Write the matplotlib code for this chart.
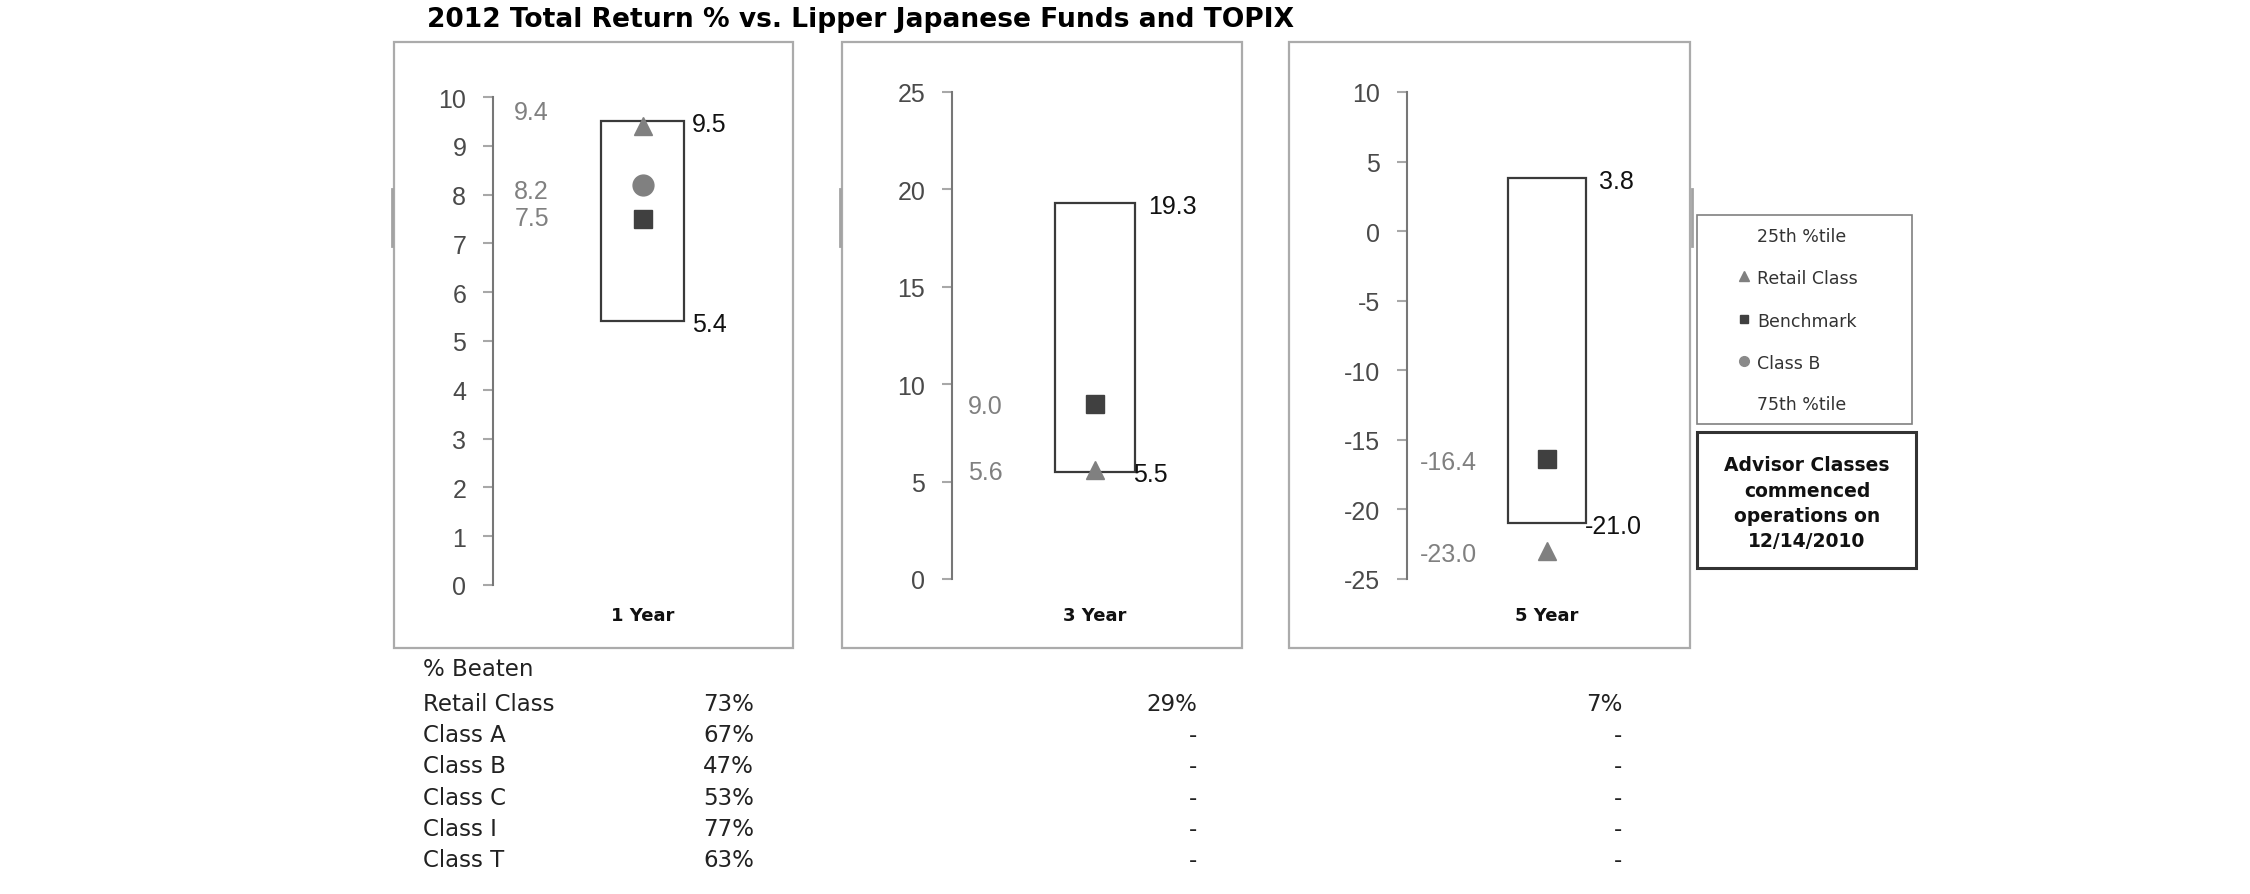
import numpy as np
import matplotlib
matplotlib.use("Agg")
import matplotlib.pyplot as plt
from matplotlib.patches import Rectangle
from matplotlib.lines import Line2D
import matplotlib.transforms as mtransforms

plt.rcParams['axes.unicode_minus'] = False
plt.rcParams['font.family'] = ['Liberation Sans', 'DejaVu Sans']

# ---------------- data ----------------
title = "2012 Total Return % vs. Lipper Japanese Funds and TOPIX"
periods = ["1 Year", "3 Year", "5 Year"]
pct25 = [9.5, 19.3, 3.8]        # top of box (25th percentile)
pct75 = [5.4, 5.5, -21.0]       # bottom of box (75th percentile)
retail = [9.4, 5.6, -23.0]
benchmark = [7.5, 9.0, -16.4]
class_b = [8.2, None, None]
y_limits = [(0, 10), (0, 25), (-25, 10)]
y_steps = [1, 5, 5]

legend_labels = ["25th %tile", "Retail Class", "Benchmark", "Class B", "75th %tile"]
note_lines = ["Advisor Classes", "commenced", "operations on", "12/14/2010"]

table_title = "% Beaten"
share_classes = ["Retail Class", "Class A", "Class B", "Class C", "Class I", "Class T"]
beaten_1y = ["73%", "67%", "47%", "53%", "77%", "63%"]
beaten_3y = ["29%", "-", "-", "-", "-", "-"]
beaten_5y = ["7%", "-", "-", "-", "-", "-"]

# ---------------- layout (pixels, origin top-left) ----------------
W, H = 2250, 895
PX = 72 / 100.0


def fx(x):
    return x / W


def fy(y):
    return 1 - y / H


fig = plt.figure(figsize=(W / 100, H / 100), dpi=100)
fig.patch.set_facecolor('white')

panel_boxes = [(394, 43, 793, 649), (842, 43, 1242, 649), (1289, 43, 1690, 649)]
spine_x = [493, 952, 1407]
axis_top = [98, 93, 93]
axis_bot = [586, 580, 580]
box_left = [601, 1055, 1508]
box_right = [684, 1135, 1586]
grey_label_right = [549, 1003, 1477]
top_label_dx = [8, 13, 13]
bot_label_dx = [8, -2, -1]
retail_dy = [-17, 0, 0]
bench_dy = [-3, 0, 0]
classb_dy = [4, 0, 0]
cat_label_y = 614

GREY_MARK = '#808080'
DARK_MARK = '#404040'
VAL_FS = 18

# panel frames
for (x0, y0, x1, y1) in panel_boxes:
    fig.add_artist(Rectangle((fx(x0), fy(y1)), (x1 - x0) / W, (y1 - y0) / H,
                             transform=fig.transFigure, fill=False,
                             edgecolor='#ababab', linewidth=1.6))
# small darker marks on frame borders
for xs in [392, 840, 1692]:
    fig.add_artist(Line2D([fx(xs), fx(xs)], [fy(190), fy(247)], transform=fig.transFigure,
                          color='#a3a3a3', linewidth=2.0))

for i in range(3):
    left = spine_x[i]
    right = panel_boxes[i][2] - 8
    ax = fig.add_axes([fx(left), fy(axis_bot[i]), (right - left) / W,
                       (axis_bot[i] - axis_top[i]) / H])
    c = (box_left[i] + box_right[i]) / 2.0
    bw = box_right[i] - box_left[i]
    ax.set_xlim(-(c - left) / bw, (right - c) / bw)
    lo, hi = y_limits[i]
    ax.set_ylim(lo, hi)
    ax.patch.set_alpha(0)
    for s in ['top', 'right', 'bottom']:
        ax.spines[s].set_visible(False)
    ax.spines['left'].set_color('#777777')
    ax.spines['left'].set_linewidth(1.5)
    ax.set_xticks([])
    ax.set_yticks(np.arange(lo, hi + y_steps[i], y_steps[i]))
    ax.tick_params(axis='y', length=7.2, width=1.5, color='#a8a8a8', pad=12,
                   labelsize=VAL_FS, labelcolor='#4a4a4a')

    # percentile box
    ax.bar(0, pct25[i] - pct75[i], bottom=pct75[i], width=1.0, facecolor='white',
           edgecolor='#3a3a3a', linewidth=1.6, zorder=2)
    # markers
    ax.plot([0], [retail[i]], marker='^', ms=12.5, color=GREY_MARK, ls='none',
            zorder=4, clip_on=False)
    ax.plot([0], [benchmark[i]], marker='s', ms=13, color=DARK_MARK, ls='none',
            zorder=4, clip_on=False)
    if class_b[i] is not None:
        ax.plot([0], [class_b[i]], marker='o', ms=15, color=GREY_MARK, ls='none',
                zorder=4, clip_on=False)

    # grey value labels on the left
    gdx = (grey_label_right[i] - c) * PX
    entries = [(retail[i], retail_dy[i]), (benchmark[i], bench_dy[i])]
    if class_b[i] is not None:
        entries.append((class_b[i], classb_dy[i]))
    for v, dy in entries:
        ax.annotate(f"{v:.1f}", xy=(0, v), xytext=(gdx, -dy * PX),
                    textcoords='offset points', ha='right', va='center_baseline',
                    color='#808080', fontsize=VAL_FS, annotation_clip=False)

    # box value labels
    ax.annotate(f"{pct25[i]:.1f}", xy=(0.5, pct25[i]), xytext=(top_label_dx[i] * PX, 0),
                textcoords='offset points', ha='left', va='center_baseline',
                color='#111111', fontsize=VAL_FS, annotation_clip=False)
    ax.annotate(f"{pct75[i]:.1f}", xy=(0.5, pct75[i]), xytext=(bot_label_dx[i] * PX, 0),
                textcoords='offset points', ha='left', va='center_baseline',
                color='#111111', fontsize=VAL_FS, annotation_clip=False)

    trans = mtransforms.blended_transform_factory(ax.transData, fig.transFigure)
    ax.text(0, fy(cat_label_y), periods[i], transform=trans, ha='center',
            va='center_baseline', fontsize=13, fontweight='bold',
            family='DejaVu Sans', color='#111111')

# legend box
fig.add_artist(Rectangle((fx(1697), fy(425)), (1912 - 1697) / W, (425 - 216) / H,
                         transform=fig.transFigure, fill=False,
                         edgecolor='#808080', linewidth=1.2))
leg_y = [235, 277, 320, 362, 403]
leg_markers = [None, ('^', GREY_MARK, 6.5), ('s', DARK_MARK, 6), ('o', '#8a8a8a', 7), None]
for lab, yy, mk in zip(legend_labels, leg_y, leg_markers):
    fig.text(fx(1757), fy(yy), lab, ha='left', va='center_baseline', fontsize=12.5,
             family='DejaVu Sans', color='#333333')
    if mk is not None:
        fig.add_artist(Line2D([fx(1744)], [fy(yy)], transform=fig.transFigure,
                              marker=mk[0], color=mk[1], ms=mk[2], ls='none'))

# note box
fig.add_artist(Rectangle((fx(1697), fy(569)), (1916 - 1697) / W, (569 - 433) / H,
                         transform=fig.transFigure, fill=False,
                         edgecolor='#333333', linewidth=2.2))
for k, line in enumerate(note_lines):
    fig.text(fx(1807), fy(464 + k * 25.3), line, ha='center', va='center_baseline',
             fontsize=13.5, fontweight='bold', family='DejaVu Sans', color='#111111')

# table
TFS = 16.5
fig.text(fx(423), fy(667), table_title, ha='left', va='center_baseline', fontsize=TFS,
         family='DejaVu Sans', color='#222222')
col_x = [754, 1197, 1622]
for r, name in enumerate(share_classes):
    yy = 702 + r * 31.2
    fig.text(fx(423), fy(yy), name, ha='left', va='center_baseline', fontsize=TFS,
             family='DejaVu Sans', color='#222222')
    for cx, col in zip(col_x, [beaten_1y, beaten_3y, beaten_5y]):
        fig.text(fx(cx), fy(yy), col[r], ha='right', va='center_baseline', fontsize=TFS,
                 family='DejaVu Sans', color='#222222')

# title, fitted to the reference width
t = fig.text(fx(427), fy(27), title, ha='left', va='baseline', fontsize=15,
             fontweight='bold', family='DejaVu Sans', color='#000000')
fig.canvas.draw()
bb = t.get_window_extent()
t.set_fontsize(15 * (1296 - 427) / bb.width)

fig.savefig('out.png', dpi=100, facecolor='white')
